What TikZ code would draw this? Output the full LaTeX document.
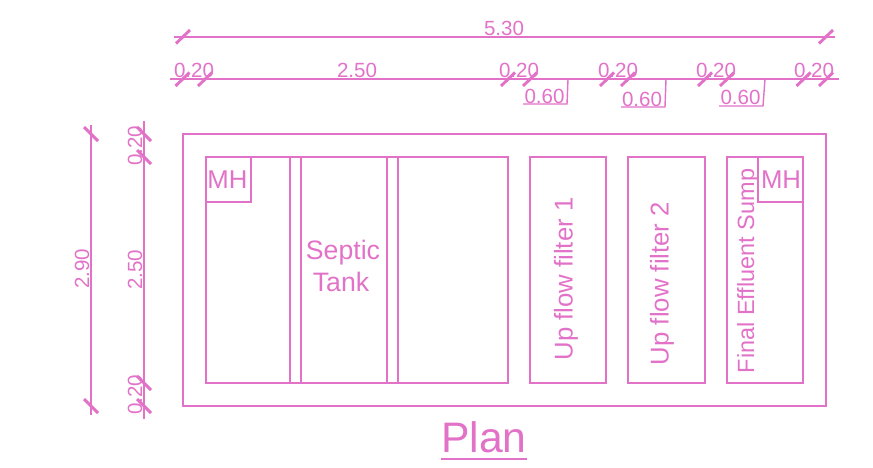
\documentclass[tikz,border=0pt]{standalone}
\usepackage{fontspec}
\setmainfont{Liberation Sans}
\definecolor{cad}{HTML}{E272C8}
\tikzset{
  line/.style={draw=cad,line width=1.2pt},
  thin line/.style={draw=cad,line width=1.05pt},
  tick/.style={draw=cad,line width=2.2pt},
  lbl/.style={text=cad,inner sep=0pt,font=\fontsize{15.4}{15.4}\selectfont},
  mh/.style={text=cad,inner sep=0pt,font=\fontsize{19.3}{19.3}\selectfont},
  big/.style={text=cad,inner sep=0pt,font=\fontsize{20}{24}\selectfont,align=center},
}
\begin{document}
\begin{tikzpicture}[x=0.75pt,y=-0.75pt]
\useasboundingbox (0,0) rectangle (873,467);
% building outlines
\draw[line] (183,134) rectangle (826,406);
\draw[line] (206,157) rectangle (508,383);
\foreach \px in {290,301,387,398} \draw[line] (\px,157) -- (\px,383);
\draw[line] (206,157) rectangle (251,202);
\draw[line] (530,157) rectangle (606,383);
\draw[line] (628,157) rectangle (705,383);
\draw[line] (727,157) rectangle (803,383);
\draw[line] (758,157) rectangle (803,202);
% horizontal dimensions
\draw[line] (174,37) -- (835,37);
\draw[line] (170,79) -- (839,79);
\foreach \px in {183,826} \draw[tick] (\px-7,43.5) -- (\px+7,30);
\foreach \px in {182.5,205,508,530,607,628,705,727,803.5,826} \draw[tick] (\px-7,86) -- (\px+7,72.5);
% vertical dimensions
\draw[line] (91,125) -- (91,415);
\draw[line] (144,121) -- (144,419);
\foreach \py in {134,406} \draw[tick] (84,\py-7) -- (98,\py+7);
\foreach \py in {134,157,383,406} \draw[tick] (137,\py-7) -- (151,\py+7);
% leaders
\draw[thin line] (568,79) -- (567,104) -- (523,104);
\draw[thin line] (666,79) -- (665,107) -- (621,107);
\draw[thin line] (765,79) -- (763,106) -- (719,106);
% labels
\node[lbl] (t530) at (504,28) {5.30};
\node[lbl] (t250) at (357,70) {2.50};
\node[lbl] (a) at (194,70) {0.20};
\node[lbl] (b) at (519,70) {0.20};
\node[lbl] (c) at (618,70) {0.20};
\node[lbl] (d) at (716,70) {0.20};
\node[lbl] (e) at (814,70) {0.20};
\node[lbl] (f) at (544.5,96) {0.60};
\node[lbl] (g) at (642,99) {0.60};
\node[lbl] (h) at (740.5,97) {0.60};
\node[lbl,rotate=90] (v290) at (82,269) {2.90};
\node[lbl,rotate=90] (v250) at (135,270) {2.50};
\node[lbl,rotate=90] (v20a) at (135,146) {0.20};
\node[lbl,rotate=90] (v20b) at (135,395) {0.20};
\node[mh] (mh1) at (227.5,180) {MH};
\node[mh] (mh2) at (781,180) {MH};
\node[big] (septic) at (343,266) {Septic\\Tank\kern3pt};
\node[mh,rotate=90] (f1) at (566,279) {Up flow filter 1};
\node[mh,rotate=90] (f2) at (662,283.5) {Up flow filter 2};
\node[text=cad,inner sep=0pt,rotate=90,font=\fontsize{17.6}{17.6}\selectfont] (sump) at (748,271) {Final Effluent Sump};
\node[text=cad,inner sep=0pt,font=\fontsize{32}{32}\selectfont] (plan) at (484,437) {Plan};
\draw[line] (441,459) -- (527,459);
\end{tikzpicture}
\end{document}
